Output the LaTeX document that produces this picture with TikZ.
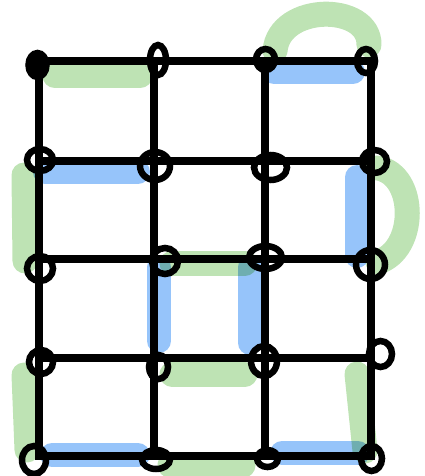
\documentclass[tikz,border=0pt]{standalone}
\usepackage{tikz}
\usetikzlibrary{arrows.meta}
\definecolor{hlgreen}{RGB}{190,227,180}
\definecolor{hlblue}{RGB}{150,196,250}

\begin{document}
\begin{tikzpicture}[
  x=1pt, y=-1pt,
  gridline/.style={line width=8pt, line cap=rect, black},
  vloop/.style={line width=6.5pt, black},
  greenhl/.style={line width=25pt, line cap=round, hlgreen},
  bluehl/.style={line width=24pt, line cap=round, hlblue},
]
  \useasboundingbox (0,0) rectangle (424,476);
  % Vertices: 4 columns x 5 rows, named V<col><row>
  \foreach \c/\x in {0/39,1/154,2/265,3/371}
    \foreach \r/\y in {0/61,1/161,2/259,3/358,4/456}
      \coordinate (V\c\r) at (\x,\y);
  % Highlight strokes, offset from the edges they follow
  \begin{scope}[blend mode=multiply]
    \draw[greenhl] ([shift={(16,15)}]V00) -- ([shift={(-14,15)}]V10);
    \draw[greenhl] ([shift={(-15,14)}]V01) -- ([shift={(-14,2)}]V02);
    \draw[greenhl] ([shift={(18,4)}]V12) -- ([shift={(-20,4)}]V22);
    \draw[greenhl] ([shift={(18,16)}]V13) -- ([shift={(-20,16)}]V23);
    \draw[greenhl] ([shift={(-15,17)}]V03) -- ([shift={(-12,-6)}]V04);
    \draw[greenhl] ([shift={(16,9)}]V14) -- ([shift={(-22,9)}]V24);
    \draw[greenhl] ([shift={(-14,16)}]V33) -- ([shift={(-6,-5)}]V34);
    % arcs over the top and round the right side
    \draw[greenhl] ([shift={(10,-10)}]V20) .. controls ([shift={(14,-58)}]V20)
      and ([shift={(-1,-58)}]V30) .. ([shift={(-2,-16)}]V30);
    \draw[greenhl] ([shift={(7,7)}]V31) .. controls ([shift={(46,14)}]V31)
      and ([shift={(46,-9)}]V32) .. ([shift={(7,3)}]V32);
    \draw[bluehl] ([shift={(6,11)}]V01) -- ([shift={(-16,11)}]V11);
    \draw[bluehl] ([shift={(9,11)}]V20) -- ([shift={(-18,11)}]V30);
    \draw[bluehl] ([shift={(-14,16)}]V31) -- ([shift={(-14,-3)}]V32);
    \draw[bluehl] ([shift={(5,8)}]V12) -- ([shift={(5,-17)}]V13);
    \draw[bluehl] ([shift={(-15,8)}]V22) -- ([shift={(-15,-15)}]V23);
    \draw[bluehl] ([shift={(13,-1)}]V04) -- ([shift={(-16,-1)}]V14);
    \draw[bluehl] ([shift={(17,-3)}]V24) -- ([shift={(-13,-3)}]V34);
  \end{scope}
  % Grid edges
  \foreach \c/\n in {0/1,1/2,2/3}
    \foreach \r in {0,...,4}
      \draw[gridline] (V\c\r) -- (V\n\r);
  \foreach \c in {0,...,3}
    \foreach \r/\n in {0/1,1/2,2/3,3/4}
      \draw[gridline] (V\c\r) -- (V\c\n);
  % Hand-drawn loops at the vertices: vertex / offset / radii
  \foreach \v/\dx/\dy/\rx/\ry in {
      V00/-1.5/4/9/12, V10/4/-1/8/15, V20/0.5/-1.5/9.5/10.5, V30/-5/0/9/12,
      V01/1/-1/13/11, V11/1/5/15/14, V21/5.5/6.5/16.5/12.5, V31/3.5/0.5/12.5/11.5,
      V02/1/9.5/13/12.5, V12/11/2/13/13, V22/0.5/-1.5/16.5/11.5, V32/-0.5/5.5/14.5/14.5,
      V03/2/4/12/12, V13/4.5/9/9.5/12, V23/-1/3/13/15, V33/9.5/-4/11.5/13,
      V04/-5/4/12/14, V14/2/3.5/14/9.5, V24/2.5/2.5/10.5/8.5, V34/0.5/2.5/10.5/12.5}
    \draw[vloop] ([shift={(\dx,\dy)}]\v) ellipse [x radius=\rx, y radius=\ry];
  % top-left vertex is inked almost solid
  \fill ([shift={(-1.5,4)}]V00) ellipse [x radius=7, y radius=10];
\end{tikzpicture}
\end{document}
